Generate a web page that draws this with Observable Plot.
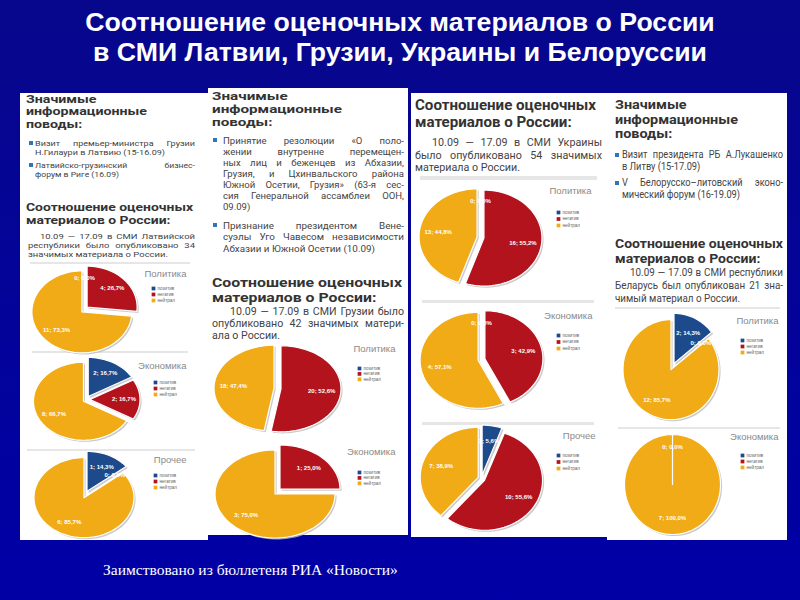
<!DOCTYPE html>
<html>
<head>
<meta charset="utf-8">
<script src="https://cdn.jsdelivr.net/npm/d3@7"></script>
<script src="https://cdn.jsdelivr.net/npm/@observablehq/plot@0.6"></script>
<style>
  html, body { margin: 0; padding: 0; background: #0000a0; }
  #slide { position: relative; width: 800px; height: 600px; overflow: hidden;
    background: linear-gradient(180deg, #07078c 0%, #0000a6 100%);
    font-family: "Liberation Sans", Arial, sans-serif; }
  .title { position: absolute; left: 0; top: 7px; width: 800px; text-align: center; color: #fff;
    font-weight: bold; line-height: 30px; white-space: nowrap; }
  .title span, .caption span { display: inline-block; }
  .panel { position: absolute; background: #fff; }
  .txt { position: absolute; color: #444; font-family: Roboto, "Liberation Sans", sans-serif; transform-origin: 0 0; }
  .txt span { display: inline-block; }
  .band { position: absolute; background: #e6e6e6; }
  .bullet { position: absolute; width: 4px; height: 4px; background: #3473b8; }
  .chart { position: absolute; }
  .caption { position: absolute; left: 103px; top: 561px; color: #fff; font-family: "Liberation Serif", "Times New Roman", serif; white-space: nowrap; }
</style>
</head>
<body>
<div id="slide">
  <div class="title" id="title"><div><span>Соотношение оценочных материалов о России</span></div><div><span>в СМИ Латвии, Грузии, Украины и Белоруссии</span></div></div>
  <div class="caption" id="caption"><span>Заимствовано из бюллетеня РИА «Новости»</span></div>
</div>
<script>
// ---------------- DATA ----------------
const sentiments = ["позитив", "негатив", "нейтрал"];
const sentimentColors = ["#1c4a8a", "#b2131d", "#f1ab17"];
const topics = ["Политика", "Экономика", "Прочее"];

// counts per sentiment [позитив, негатив, нейтрал]; null = category absent from the chart
const latviaPolitics  = [0, 4, 11];
const latviaEconomy   = [2, 2, 8];
const latviaOther     = [1, 0, 6];
const georgiaPolitics = [null, 20, 18];
const georgiaEconomy  = [null, 1, 3];
const ukrainePolitics = [0, 16, 13];
const ukraineEconomy  = [0, 3, 4];
const ukraineOther    = [1, 10, 7];
const belarusPolitics = [2, 0, 12];
const belarusEconomy  = [0, null, 7];

// ---------------- LAYOUT ----------------
const slide = document.getElementById("slide");

function fitFont(el, baseSize, target) {
  el.style.fontSize = baseSize + "px";
  const w = Math.max(...[...el.querySelectorAll("span")].map(sp => sp.getBoundingClientRect().width));
  el.style.fontSize = (baseSize * target / w) + "px";
}
fitFont(document.getElementById("title"), 22, 630);
fitFont(document.getElementById("caption"), 15, 295);

const panels = [
  {left: 20, top: 93, right: 208, bottom: 540},
  {left: 208, top: 88, right: 408, bottom: 535},
  {left: 411, top: 93, right: 607, bottom: 537},
  {left: 607, top: 93, right: 787, bottom: 540}
];
panels.forEach(p => {
  const d = document.createElement("div");
  d.className = "panel";
  Object.assign(d.style, {left: p.left + "px", top: p.top + "px", width: (p.right - p.left) + "px", height: (p.bottom - p.top) + "px"});
  slide.appendChild(d);
});

const bands = [
  [30, 262, 160, 2], [32, 351, 156, 2], [27, 449, 168, 2],
  [420, 176, 177, 4], [422, 300, 172, 3], [422, 422, 172, 3],
  [615, 307, 165, 2], [618, 427, 162, 2]
];
bands.forEach(([x, y, w, h]) => {
  const d = document.createElement("div");
  d.className = "band";
  Object.assign(d.style, {left: x + "px", top: y + "px", width: w + "px", height: h + "px"});
  slide.appendChild(d);
});

// text block: font size sets the glyph height, a horizontal stretch k matches the reference line widths
function addBlock(spec) {
  const d = document.createElement("div");
  d.className = "txt";
  const s = d.style;
  const size = spec.lh / 1.2;
  s.left = spec.left + "px"; s.top = spec.top + "px";
  s.fontSize = size + "px"; s.lineHeight = spec.lh + "px";
  if (spec.bold) { s.fontWeight = "bold"; s.color = "#333"; }
  const rows = spec.lines.map((ln, k) => {
    const row = document.createElement("div");
    row.style.height = spec.lh + "px";
    const justify = spec.justify && k < spec.lines.length - 1;
    if (justify) {
      row.textContent = ln;
      row.style.textAlign = "justify";
      row.style.textAlignLast = "justify";
      row.dataset.j = "1";
    } else {
      row.style.whiteSpace = "nowrap";
      const sp = document.createElement("span"); sp.textContent = ln; row.appendChild(sp);
    }
    d.appendChild(row);
    return row;
  });
  slide.appendChild(d);
  let k = spec.k || 1;
  if (spec.fitLine != null) {
    const sp = rows[spec.fitLine].querySelector("span");
    k = spec.fitWidth / sp.getBoundingClientRect().width;
  }
  if (spec.width) s.width = (spec.width / k) + "px";
  if (spec.indent) rows[0].style.paddingLeft = (spec.indent / k) + "px";
  s.transform = `scaleX(${k})`;
  // a justified line that would wrap is kept on one line
  rows.forEach(r => { if (r.dataset.j && r.scrollHeight > spec.lh * 1.4) r.style.whiteSpace = "nowrap"; });
  if (spec.bullet != null) {
    const b = document.createElement("div");
    b.className = "bullet";
    Object.assign(b.style, {left: (spec.left + spec.bullet) + "px", top: (spec.top + spec.lh / 2 - 2) + "px"});
    slide.appendChild(b);
  }
  return k;
}

const heading1 = ["Значимые", "информационные", "поводы:"];
const heading2 = ["Соотношение оценочных", "материалов о России:"];

// Panel 1 — Latvia
addBlock({left: 26, top: 93.5, lh: 12.5, bold: true, lines: heading1, fitLine: 1, fitWidth: 121});
addBlock({left: 35, top: 138.5, width: 160, lh: 9, justify: true, bullet: -6,
  lines: ["Визит премьер-министра Грузии", "Н.Гилаури в Латвию (15-16.09)"], fitLine: 1, fitWidth: 130});
addBlock({left: 35, top: 160.5, width: 160, lh: 9, justify: true, bullet: -6,
  lines: ["Латвийско-грузинский бизнес-", "форум в Риге (16.09)"], fitLine: 1, fitWidth: 84});
addBlock({left: 26, top: 200.5, lh: 13, bold: true, lines: heading2, fitLine: 0, fitWidth: 167});
addBlock({left: 28, top: 231.5, width: 167, lh: 9, justify: true, indent: 12,
  lines: ["10.09 — 17.09 в СМИ Латвийской", "республики было опубликовано 34", "значимых материала о России."], fitLine: 2, fitWidth: 140});

// Panel 2 — Georgia
addBlock({left: 212, top: 89.5, lh: 13, bold: true, lines: heading1, fitLine: 1, fitWidth: 130});
const kGeo = addBlock({left: 223, top: 219.5, width: 181, lh: 11.5, justify: true, bullet: -10,
  lines: ["Признание президентом Вене-", "суэлы Уго Чавесом независимости", "Абхазии и Южной Осетии (10.09)"], fitLine: 2, fitWidth: 152});
addBlock({left: 223, top: 134.5, width: 181, lh: 11.15, justify: true, bullet: -10, k: kGeo,
  lines: ["Принятие резолюции «О поло-", "жении внутренне перемещен-", "ных лиц и беженцев из Абхазии,",
          "Грузия, и Цхинвальского района", "Южной Осетии, Грузия» (63-я сес-", "сия Генеральной ассамблеи ООН,", "09.09)"]});
addBlock({left: 212, top: 274.5, lh: 15, bold: true, lines: heading2, fitLine: 0, fitWidth: 190});
addBlock({left: 212, top: 306, width: 192, lh: 12, justify: true, indent: 18,
  lines: ["10.09 — 17.09 в СМИ Грузии было", "опубликовано 42 значимых матери-", "ала о России."], fitLine: 2, fitWidth: 68});

// Panel 3 — Ukraine
addBlock({left: 415, top: 96.5, lh: 17, bold: true, lines: heading2, fitLine: 0, fitWidth: 181});
addBlock({left: 415, top: 137, width: 187, lh: 12.5, justify: true, indent: 17,
  lines: ["10.09 — 17.09 в СМИ Украины", "было опубликовано 54 значимых", "материала о России."], fitLine: 2, fitWidth: 105});

// Panel 4 — Belarus
addBlock({left: 615, top: 98, lh: 14.5, bold: true, lines: heading1, fitLine: 1, fitWidth: 123});
const kBel = addBlock({left: 622, top: 177, width: 161, lh: 12, justify: true, bullet: -7,
  lines: ["V Белорусско–литовский эконо-", "мический форум (16-19.09)"], fitLine: 1, fitWidth: 118});
addBlock({left: 622, top: 149, width: 161, lh: 12, justify: true, bullet: -7, k: kBel,
  lines: ["Визит президента РБ А.Лукашенко", "в Литву (15-17.09)"]});
addBlock({left: 615, top: 235.5, lh: 15, bold: true, lines: heading2, fitLine: 0, fitWidth: 168});
addBlock({left: 615, top: 265.5, width: 168, lh: 13, justify: true, indent: 15,
  lines: ["10.09 — 17.09 в СМИ республики", "Беларусь был опубликован 21 зна-", "чимый материал о России."], fitLine: 2, fitWidth: 125});

// ---------------- PIES ----------------
const EXPLODE = 3.5, LABEL_R = 0.68;

function pieChart(values, title, L) {
  // L: page-coordinate layout of the chart box, pie centre/radii, title and legend anchors
  const cx = L.cx - L.left, cy = L.cy - L.top;
  const total = d3.sum(values.filter(v => v != null));
  const polys = [], labels = [];
  let a = 0;
  values.forEach((v, i) => {
    if (v == null) return;
    const span = v / total * 2 * Math.PI;
    const a0 = a; a += span;
    const mid = span > 0 ? a0 + span / 2 : a0;
    const full = span >= 2 * Math.PI - 1e-9;
    const e = full ? 0 : EXPLODE;
    const ox = Math.sin(mid) * e / L.rx, oy = Math.cos(mid) * e / L.ry;
    const pct = (v / total * 100).toFixed(1).replace(".", ",");
    labels.push({x: ox + LABEL_R * Math.sin(mid), y: oy + LABEL_R * Math.cos(mid), text: `${v}; ${pct}%`});
    if (span > 0) {
      const n = Math.max(2, Math.ceil(span / (2 * Math.PI) * 120));
      const pts = [{x: ox, y: oy}];
      for (let k = 0; k <= n; k++) {
        const t = a0 + span * k / n;
        pts.push({x: ox + Math.sin(t), y: oy + Math.cos(t)});
      }
      pts.push({x: ox, y: oy});
      pts.forEach(p => polys.push({id: i, cat: sentiments[i], x: p.x, y: p.y}));
    }
  });
  const sx = 1.6 / L.rx, sy = 1.6 / L.ry;
  const shadow = polys.map(p => ({...p, x: p.x + sx, y: p.y - sy}));
  const legend = sentiments.map((s, i) => ({cat: s, x: (L.lx - L.cx) / L.rx, y: -(L.ly + i * L.ls - L.cy) / L.ry}));
  const titleDatum = [{t: title, x: (L.tx - L.cx) / L.rx, y: -(L.ty - L.cy) / L.ry}];

  const svg = Plot.plot({
    width: L.w, height: L.h, margin: 0,
    x: {domain: [-1, 1], range: [cx - L.rx, cx + L.rx], axis: null},
    y: {domain: [-1, 1], range: [cy + L.ry, cy - L.ry], axis: null},
    color: {domain: sentiments, range: sentimentColors},
    style: {background: "transparent", overflow: "visible", fontFamily: "Liberation Sans, Arial, sans-serif"},
    marks: [
      Plot.line(shadow, {x: "x", y: "y", z: "id", fill: "#bdbdbd", stroke: "none", fillOpacity: 0.8, curve: "linear"}),
      Plot.line(polys, {x: "x", y: "y", z: "id", fill: "cat", stroke: "white", strokeWidth: 1.2, curve: "linear"}),
      Plot.text(labels, {x: "x", y: "y", text: "text", fill: "white", fontSize: 6, fontWeight: "bold"}),
      Plot.dot(legend, {x: "x", y: "y", fill: "cat", symbol: "square", r: 2.1, stroke: "none"}),
      Plot.text(legend, {x: "x", y: "y", text: "cat", textAnchor: "start", dx: 4, fontSize: 4.6, fill: "#666"}),
      Plot.text(titleDatum, {x: "x", y: "y", text: "t", textAnchor: "end", fontSize: 9.5, fill: "#8a8a8a"})
    ]
  });
  const holder = document.createElement("div");
  holder.className = "chart";
  Object.assign(holder.style, {left: L.left + "px", top: L.top + "px", width: L.w + "px", height: L.h + "px"});
  holder.appendChild(svg);
  slide.appendChild(holder);
}

pieChart(latviaPolitics, topics[0], {left: 20, top: 263, w: 188, h: 88, cx: 84, cy: 309, rx: 50, ry: 41, tx: 186, ty: 273, lx: 153, ly: 288, ls: 6});
pieChart(latviaEconomy, topics[1], {left: 20, top: 353, w: 188, h: 96, cx: 86, cy: 399, rx: 50, ry: 39, tx: 186, ty: 365, lx: 155, ly: 382, ls: 6});
pieChart(latviaOther, topics[2], {left: 20, top: 451, w: 188, h: 89, cx: 85, cy: 494, rx: 50, ry: 40, tx: 186, ty: 459, lx: 155, ly: 475, ls: 6});

pieChart(georgiaPolitics, topics[0], {left: 208, top: 340, w: 200, h: 100, cx: 277, cy: 388, rx: 60, ry: 43, tx: 395, ty: 348, lx: 359, ly: 368, ls: 5.4});
pieChart(georgiaEconomy, topics[1], {left: 208, top: 440, w: 200, h: 95, cx: 277, cy: 491, rx: 60, ry: 44, tx: 395, ty: 451, lx: 359, ly: 472, ls: 5.4});

pieChart(ukrainePolitics, topics[0], {left: 411, top: 180, w: 196, h: 120, cx: 480, cy: 237, rx: 58, ry: 48, tx: 591, ty: 190, lx: 558, ly: 212, ls: 6.5});
pieChart(ukraineEconomy, topics[1], {left: 411, top: 303, w: 196, h: 119, cx: 481, cy: 359, rx: 58, ry: 48, tx: 592, ty: 315, lx: 558, ly: 335, ls: 6.5});
pieChart(ukraineOther, topics[2], {left: 411, top: 425, w: 196, h: 112, cx: 481, cy: 478, rx: 58, ry: 50, tx: 595, ty: 435, lx: 558, ly: 455, ls: 6.5});

pieChart(belarusPolitics, topics[0], {left: 607, top: 309, w: 180, h: 118, cx: 672, cy: 366, rx: 48, ry: 50, tx: 778, ty: 320, lx: 742, ly: 340, ls: 6});
pieChart(belarusEconomy, topics[1], {left: 607, top: 429, w: 180, h: 111, cx: 672, cy: 484, rx: 48, ry: 50, tx: 778, ty: 436, lx: 742, ly: 455, ls: 6});
</script>
</body>
</html>
